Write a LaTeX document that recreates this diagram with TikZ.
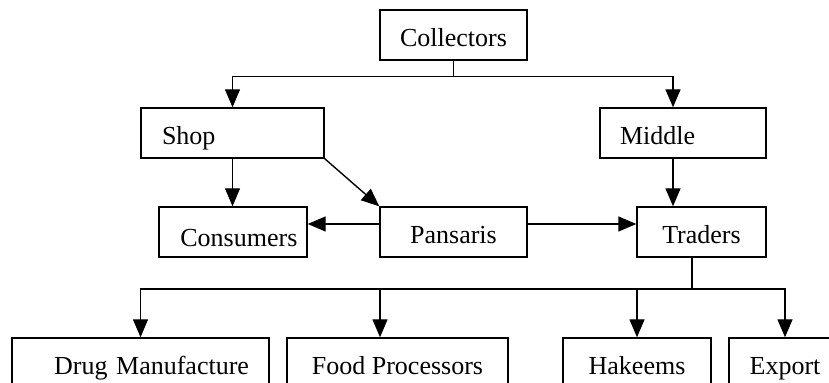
\documentclass[tikz,border=0pt]{standalone}
\usepackage{fontspec}
\setmainfont{Liberation Serif}
\usetikzlibrary{arrows.meta,calc}

\begin{document}
\begin{tikzpicture}[x=0.5pt,y=-0.5pt,font=\fontsize{13}{15}\selectfont]
  \tikzset{ box/.style={draw,line width=0.7pt,minimum height=25pt,inner sep=0pt,
                        text height=11.5pt,text depth=0pt},
            lbox/.style={box,align=left,inner xsep=10.5pt},
            rbox/.style={box,align=right,inner xsep=10pt},
            ln/.style={line width=0.7pt},
            arr/.style={ln,-{Triangle[length=9pt,width=7.5pt]}},
  }
  \clip (0,0) rectangle (829,383);

  % the boxes
  \node[box,minimum width=73.5pt] (coll) at (453.5,35) {Collectors};
  \node[lbox,text width=70.5pt] (shop) at (232.5,133) {Shop};
  \node[lbox,inner xsep=10pt,text width=63pt] (mid) at (683,133) {Middle};
  \node[box,minimum width=74pt] (cons) at (233,232) {};
  \node[box,minimum width=73.5pt] (pans) at (453.5,232) {Pansaris};
  \node[box,minimum width=64.5pt] (trad) at (701.5,232) {Traders};
  \node[rbox,text width=108.5pt] (drug) at (140.5,363) {Drug Manufacture};
  \node[box,minimum width=110.5pt] (food) at (397.5,363) {Food Processors};
  \node[box,minimum width=74pt] (hak) at (637,363) {Hakeems};
  \node[box,minimum width=56pt] (exp) at (785,363) {Export};

  % label of the consumers box, cut at its foot
  \begin{scope}
    \clip (cons.north west) rectangle (307,247);
    \node[anchor=base west,inner sep=0pt] (conslbl) at (180,247) {Consumers};
  \end{scope}

  % the connections between the boxes
  \draw[ln] (coll.south) -- ++(0,16) coordinate (cj);
  \draw[arr] (cj) -| (shop.north);
  \draw[arr] (cj) -| ([xshift=-5pt]mid.north);
  \draw[arr] (shop.south) -- (shop.south |- cons.north);
  \draw[arr] (shop.south east) -- (pans.north west);
  \draw[arr] ([yshift=4pt]pans.west) -- ([yshift=4pt]cons.east);
  \draw[arr] ([yshift=4pt]pans.east) -- ([yshift=4pt]trad.west);
  \draw[arr] ([xshift=-5pt]mid.south) -- ([xshift=-5pt]mid.south |- trad.north);
  \coordinate (tj) at (692,289);
  \draw[ln] (trad.south -| tj) -- (tj);
  \draw[arr] (tj) -| (drug.north);
  \draw[arr] (tj) -| ([xshift=-8.75pt]food.north);
  \draw[arr] (tj) -| (hak.north);
  \draw[arr] (tj) -| (exp.north);
\end{tikzpicture}
\end{document}
